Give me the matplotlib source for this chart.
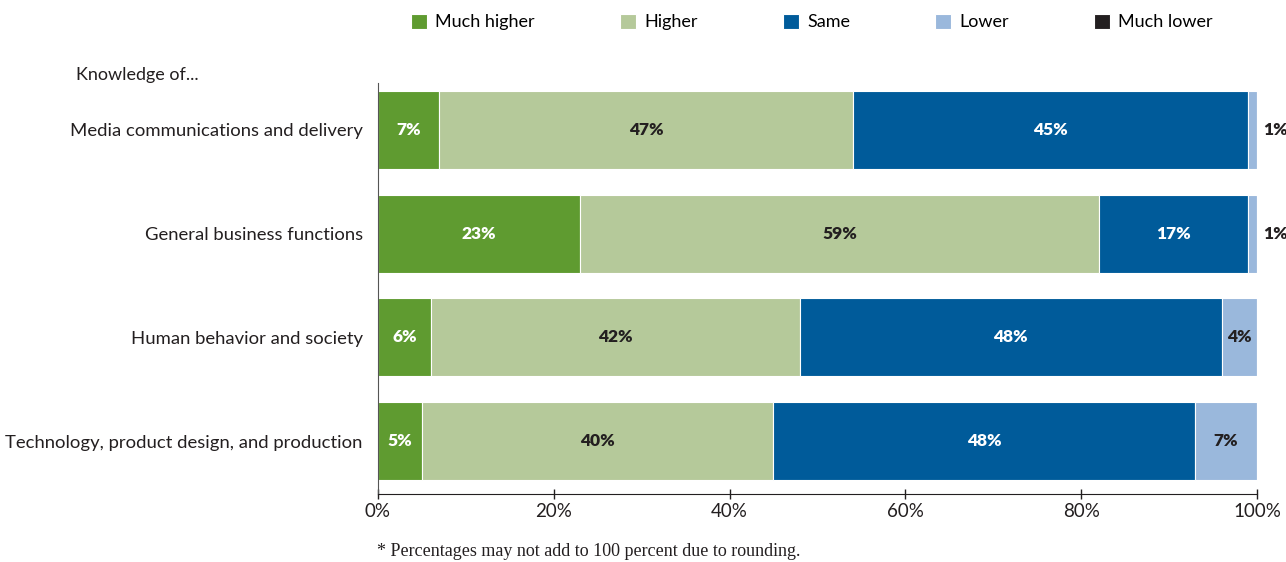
import matplotlib
matplotlib.use("Agg")
import matplotlib.pyplot as plt
import numpy as np

plt.rcParams["font.family"] = ["Lato", "DejaVu Sans"]

categories = [
    "Media communications and delivery",
    "General business functions",
    "Human behavior and society",
    "Technology, product design, and production",
]
series_names = ["Much higher", "Higher", "Same", "Lower", "Much lower"]
much_higher = [7, 23, 6, 5]
higher = [47, 59, 42, 40]
same = [45, 17, 48, 48]
lower = [1, 1, 4, 7]
much_lower = [0, 0, 0, 0]

colors = ["#5f9b30", "#b5c99a", "#005b9a", "#9ab8dc", "#231f20"]
label_colors = ["white", "#231f20", "white", "#231f20", "white"]

fig = plt.figure(figsize=(12.86, 5.62), dpi=100)
ax = fig.add_axes([0.2939, 0.121, 0.6835, 0.731])

y = np.arange(len(categories))
left = np.zeros(len(categories))
handles = []
for name, vals, col, lcol in zip(series_names,
                                 [much_higher, higher, same, lower, much_lower],
                                 colors, label_colors):
    vals = np.array(vals, dtype=float)
    bars = ax.barh(y, vals, left=left, height=0.75, color=col,
                   edgecolor="white", linewidth=0.8, label=name)
    handles.append(bars)
    for yi, l, v in zip(y, left, vals):
        if v <= 0:
            continue
        if v < 3:
            # too thin to hold its label, put it to the right of the bar
            ax.text(100.7, yi, f"{int(v)}%", ha="left", va="center",
                    fontsize=12.5, fontweight="heavy", color="#231f20",
                    clip_on=False)
        else:
            ax.text(l + v / 2, yi, f"{int(v)}%", ha="center", va="center",
                    fontsize=12.5, fontweight="heavy", color=lcol)
    left = left + vals

ax.set_xlim(0, 100)
ax.set_ylim(3.51, -0.45)
ax.set_yticks(y)
ax.set_yticklabels(categories, fontsize=13.3, color="#231f20")
ax.tick_params(axis="y", length=0, pad=11)
ax.set_xticks([0, 20, 40, 60, 80, 100])
ax.set_xticklabels(["0%", "20%", "40%", "60%", "80%", "100%"],
                   fontsize=13.5, color="#231f20")
ax.tick_params(axis="x", direction="inout", length=7, width=1,
               color="#231f20", pad=3)
for side in ["top", "right"]:
    ax.spines[side].set_visible(False)
ax.spines["left"].set_color("#555555")
ax.spines["bottom"].set_color("#231f20")

fig.text(76 / 1286, 1 - 75 / 562, "Knowledge of...", fontsize=13,
         color="#231f20", va="center", ha="left")
fig.text(377 / 1286, 1 - 551 / 562,
         "* Percentages may not add to 100 percent due to rounding.",
         fontsize=13, family="Liberation Serif", color="#231f20",
         va="center", ha="left")

fig.legend(handles=handles, labels=series_names, loc="center left",
           bbox_to_anchor=(411 / 1286, 1 - 22 / 562), ncol=5, frameon=False,
           fontsize=13, handlelength=0.9, handleheight=0.9,
           handletextpad=0.45, columnspacing=4.7, borderaxespad=0,
           borderpad=0)

fig.savefig("out.png", dpi=100, facecolor="white")
